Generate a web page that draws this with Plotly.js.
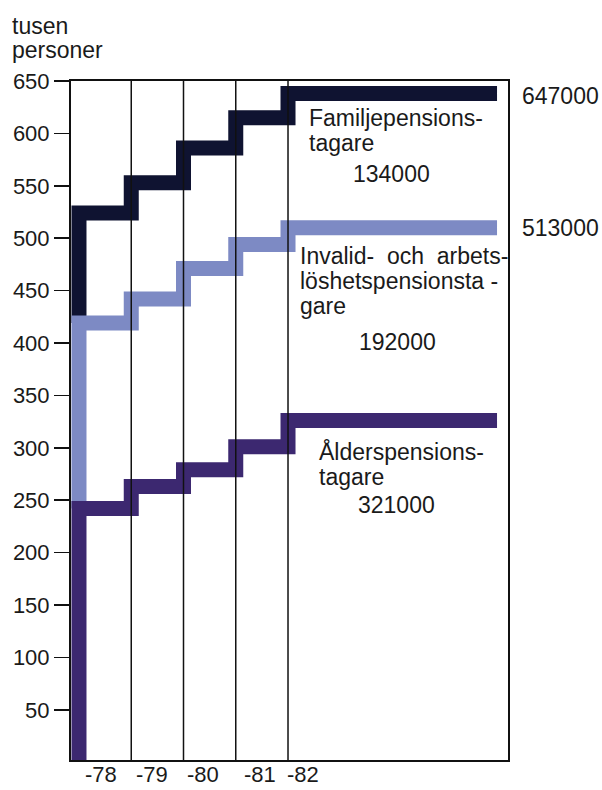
<!DOCTYPE html>
<html>
<head>
<meta charset="utf-8">
<script src="https://cdn.plot.ly/plotly-3.0.1.min.js"></script>
<style>html,body{margin:0;padding:0;background:#fff;}</style>
</head>
<body>
<div id="chart" style="width:602px;height:790px;"></div>
<script>
// ---- data (thousands of persons, cumulative levels) ----
const years = [1978, 1979, 1980, 1981, 1982];
const yearLabels = ['-78', '-79', '-80', '-81', '-82'];
const alder = [242, 263, 279, 301, 326];          // Ålderspensionstagare
const invalid = [419, 442, 471, 494, 510];        // + Invalid- och arbetslöshetspensionstagare
const familj = [524, 553, 586, 615, 638];         // + Familjepensionstagare
const yTicks = [50, 100, 150, 200, 250, 300, 350, 400, 450, 500, 550, 600, 650];
const totals = ['647000', '513000'];
const groupCounts = ['134000', '192000', '321000'];

// ---- layout constants ----
const lineEnd = 1986;
const labelPos = [1978.42, 1979.40, 1980.37, 1981.46, 1982.29];
const L = 71, R = 508, T = 81, B = 760;
const W = 602, H = 790;
const px = x => (x - L) / (R - L);
const py = y => (B - y) / (B - T);
const FONT = '"Liberation Sans", Arial, Helvetica, sans-serif';
const INK = '#1a1a1a';

function stepTrace(levels, base, color) {
  return {
    type: 'scatter', mode: 'lines',
    x: [years[0]].concat(years, [lineEnd]),
    y: [base].concat(levels, [levels[levels.length - 1]]),
    line: {shape: 'hv', color: color, width: 15},
    hoverinfo: 'skip', showlegend: false
  };
}

const traces = [
  stepTrace(familj, invalid[0], '#0f1331'),
  stepTrace(invalid, alder[0], '#7d8ac4'),
  stepTrace(alder, 0, '#3c2870')
];

const gridShapes = years.slice(1).map(yr => ({
  type: 'line', xref: 'x', yref: 'paper', x0: yr, x1: yr, y0: 0, y1: 1,
  line: {color: '#111', width: 1.5}, layer: 'above'
}));

function ann(text, x, y, anchor, size) {
  return {text: text, xref: 'paper', yref: 'paper', x: px(x), y: py(y),
    xanchor: anchor || 'left', yanchor: 'middle', showarrow: false,
    font: {family: FONT, size: size || 23, color: INK}};
}

const xLabelAnns = yearLabels.map((t, i) => ({
  text: t, xref: 'x', yref: 'paper', x: labelPos[i], y: py(789),
  xanchor: 'center', yanchor: 'bottom', showarrow: false,
  font: {family: FONT, size: 22, color: INK}
}));

const annotations = [
  ann('tusen', 10, 26),
  ann('personer', 10, 50),
  ann(totals[0], 520, 96),
  ann(totals[1], 520, 228),
  ann('Familjepensions-', 307, 118),
  ann('tagare', 307, 143),
  ann(groupCounts[0], 351, 174),
  ann('Invalid-  och  arbets-', 298, 256),
  ann('löshetspensionsta -', 298, 281),
  ann('gare', 298, 306),
  ann(groupCounts[1], 357, 342),
  ann('Ålderspensions-', 317, 451),
  ann('tagare', 317, 477),
  ann(groupCounts[2], 356, 505)
].concat(xLabelAnns);

const layout = {
  width: W, height: H,
  margin: {l: L, r: W - R, t: T, b: H - B, pad: 0},
  paper_bgcolor: '#fff', plot_bgcolor: '#fff',
  showlegend: false,
  font: {family: FONT, size: 22, color: INK},
  xaxis: {
    range: [1977.847, 1986.21], showgrid: false, zeroline: false,
    showline: true, linecolor: '#111', linewidth: 2, mirror: true,
    showticklabels: false, ticks: ''
  },
  yaxis: {
    range: [2.1, 650], showgrid: false, zeroline: false,
    showline: true, linecolor: '#111', linewidth: 2, mirror: true,
    tickmode: 'array', tickvals: yTicks,
    ticks: 'outside', ticklen: 15, tickwidth: 1.5, tickcolor: '#111',
    tickfont: {family: FONT, size: 22, color: INK}
  },
  shapes: gridShapes,
  annotations: annotations
};

Plotly.newPlot('chart', traces, layout, {displayModeBar: false, staticPlot: true}).then(() => {
  document.querySelectorAll('.js-line').forEach(p => {
    p.style.strokeLinejoin = 'miter';
    p.style.strokeLinecap = 'butt';
  });
});
</script>
</body>
</html>
